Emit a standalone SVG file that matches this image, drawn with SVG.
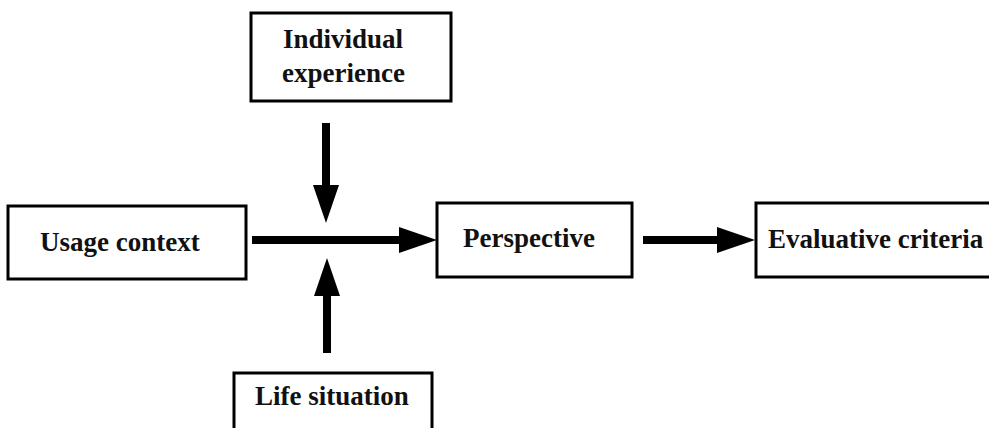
<svg xmlns="http://www.w3.org/2000/svg" width="989" height="428" viewBox="0 0 989 428">
<style>
.box{fill:#fff;stroke:#000;stroke-width:3}
.lbl{font-family:"Liberation Serif","Times New Roman",serif;font-weight:bold;font-size:27px;fill:#111}
.con{stroke:#000;stroke-width:8;fill:none;marker-end:url(#ah)}
</style>
<defs>
<marker id="ah" markerUnits="userSpaceOnUse" markerWidth="40" markerHeight="28" viewBox="0 0 40 28" refX="2" refY="13" orient="auto">
<path d="M0,0 L38,13 L0,26 z" fill="#000"/>
</marker>
</defs>
<rect width="989" height="428" fill="#fff"/>
<g id="individual-experience">
<rect class="box" x="251" y="13" width="200" height="88"/>
<text class="lbl" x="283" y="48">Individual</text>
<text class="lbl" x="282" y="82">experience</text>
</g>
<g id="usage-context">
<rect class="box" x="8" y="206" width="238" height="73"/>
<text class="lbl" x="40" y="251">Usage context</text>
</g>
<g id="perspective">
<rect class="box" x="437" y="203" width="195" height="74"/>
<text class="lbl" x="463" y="247">Perspective</text>
</g>
<g id="evaluative-criteria">
<rect class="box" x="756" y="203" width="250" height="74"/>
<text class="lbl" x="768" y="248">Evaluative criteria</text>
</g>
<g id="life-situation">
<rect class="box" x="234" y="373" width="198" height="60"/>
<text class="lbl" x="255" y="405">Life situation</text>
</g>
<g id="connectors">
<line class="con" x1="252" y1="240" x2="401" y2="240"/>
<line class="con" x1="643" y1="240" x2="719" y2="240"/>
<line class="con" x1="326" y1="123" x2="326" y2="187"/>
<line class="con" x1="327" y1="353" x2="327" y2="294"/>
</g>
</svg>
